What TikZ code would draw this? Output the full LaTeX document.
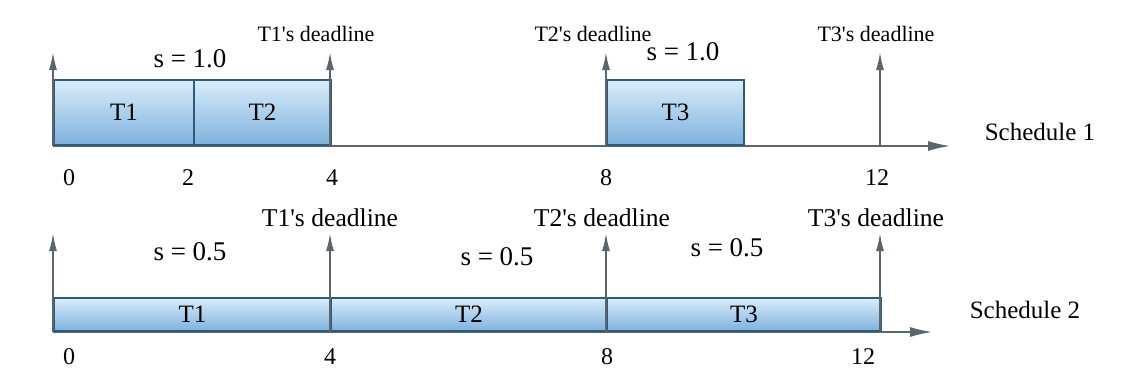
\documentclass[tikz,border=0pt]{standalone}
\usepackage{fontspec}
\setmainfont{Liberation Serif}
\usepackage{tikz}
\usetikzlibrary{arrows.meta}
\usepackage{xcolor}

\definecolor{boxtop}{HTML}{D9EDFA}
\definecolor{boxbot}{HTML}{7EB1DD}
\definecolor{boxedge}{HTML}{30597A}
\definecolor{axisgray}{HTML}{5A656D}

\tikzset{
  taskbox/.style={draw=boxedge, line width=0.9pt, top color=boxtop, bottom color=boxbot, inner sep=0pt, anchor=south west, font=\fontsize{12.5}{14}\selectfont},
  timeaxis/.style={draw=axisgray, line width=0.7pt, -{Latex[length=11pt, width=5pt]}},
  deadarrow/.style={draw=axisgray, line width=0.9pt, -{Latex[length=9pt, width=4pt]}},
  ticklabel/.style={font=\fontsize{12}{14}\selectfont},
  speedlabel/.style={font=\fontsize{13.5}{15}\selectfont},
}

\begin{document}
\begin{tikzpicture}[x=0.5pt, y=-0.5pt]
  \useasboundingbox (0,0) rectangle (1131,387);

  % Schedule 1
  \foreach \x/\n in {53/0, 193/2, 330/4, 606/8, 880/12, 950/end} {
    \coordinate (p\n) at (\x,146);
  }
  \foreach \x/\n in {53/0, 330/4, 606/8, 880/12} {
    \coordinate (u\n) at (\x,52);
  }
  \draw[timeaxis] (p0) -- (pend);

  \node[taskbox, minimum width=70pt, minimum height=32.5pt] (t1a) at (p0) {T1};
  \node[taskbox, minimum width=68.5pt, minimum height=32.5pt] (t2a) at (p2) {T2};
  \node[taskbox, minimum width=68.5pt, minimum height=32.5pt] (t3a) at (p8) {T3};

  \foreach \n in {0, 4, 8, 12} {
    \draw[deadarrow] (p\n) -- (u\n);
  }

  \node[ticklabel] (n0a) at (69,178) {0};
  \node[ticklabel] (n2a) at (188,178) {2};
  \node[ticklabel] (n4a) at (332,178) {4};
  \node[ticklabel] (n8a) at (606,178) {8};
  \node[ticklabel] (n12a) at (877,178) {12};

  \node[speedlabel] (s1a) at (190,59) {s = 1.0};
  \node[speedlabel] (s2a) at (683,52) {s = 1.0};

  \node[font=\fontsize{11}{13}\selectfont] (d1a) at (316,34) {T1\textquotesingle s deadline};
  \node[font=\fontsize{11}{13}\selectfont] (d2a) at (593,34) {T2\textquotesingle s deadline};
  \node[font=\fontsize{11}{13}\selectfont] (d3a) at (876,34) {T3\textquotesingle s deadline};

  \node[font=\fontsize{12.5}{14}\selectfont] (sch1) at (1040,132) {Schedule 1};

  % Schedule 2
  \foreach \x/\n in {53/0, 330/4, 606/8, 880/12, 932/end} {
    \coordinate (q\n) at (\x,332);
  }
  \foreach \x/\n in {53/0, 330/4, 606/8, 880/12} {
    \coordinate (v\n) at (\x,233);
  }
  \draw[timeaxis] (q0) -- (qend);

  \node[taskbox, minimum width=138.5pt, minimum height=16.5pt] (t1b) at (q0) {T1};
  \node[taskbox, minimum width=138pt, minimum height=16.5pt] (t2b) at (q4) {T2};
  \node[taskbox, minimum width=137pt, minimum height=16.5pt] (t3b) at (q8) {T3};

  \foreach \n in {0, 4, 8, 12} {
    \draw[deadarrow] (q\n) -- (v\n);
  }

  \node[ticklabel] (n0b) at (69,357) {0};
  \node[ticklabel] (n4b) at (330,357) {4};
  \node[ticklabel] (n8b) at (607,357) {8};
  \node[ticklabel] (n12b) at (863,357) {12};

  \node[speedlabel] (s1b) at (190,252) {s = 0.5};
  \node[speedlabel] (s2b) at (497,257) {s = 0.5};
  \node[speedlabel] (s3b) at (727,248) {s = 0.5};

  \node[font=\fontsize{12.8}{14}\selectfont] (d1b) at (330,218) {T1\textquotesingle s deadline};
  \node[font=\fontsize{12.8}{14}\selectfont] (d2b) at (602,218) {T2\textquotesingle s deadline};
  \node[font=\fontsize{12.8}{14}\selectfont] (d3b) at (876,218) {T3\textquotesingle s deadline};

  \node[font=\fontsize{12.5}{14}\selectfont] (sch2) at (1025,310) {Schedule 2};

\end{tikzpicture}
\end{document}
